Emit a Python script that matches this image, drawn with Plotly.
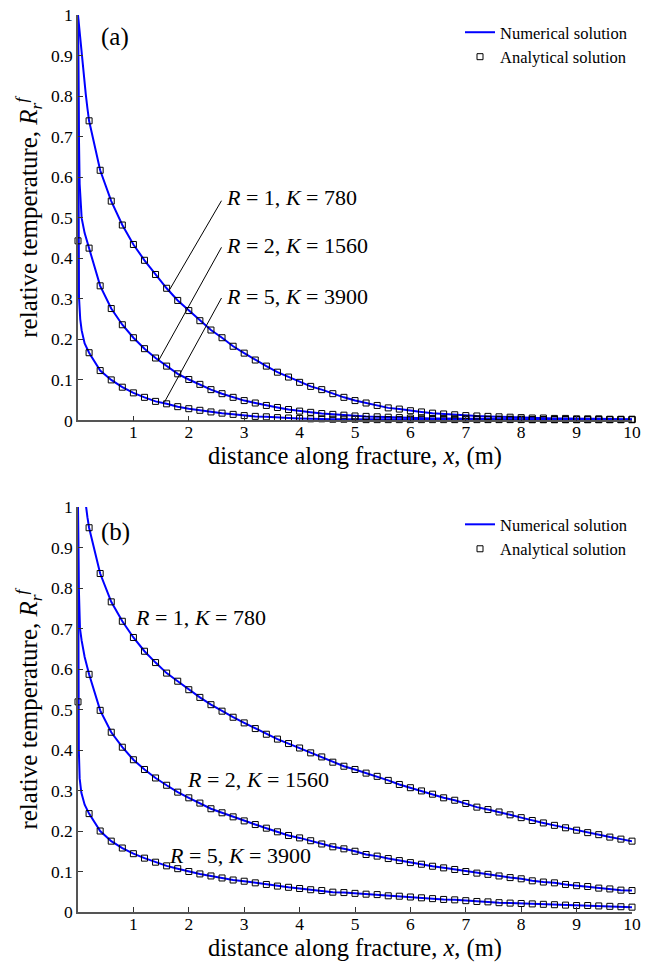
import plotly.graph_objects as go

# ---------------- data ----------------
x_grid = [0.2, 0.4, 0.6, 0.8, 1.0, 1.2, 1.4, 1.6, 1.8, 2.0,
          2.2, 2.4, 2.6, 2.8, 3.0, 3.2, 3.4, 3.6, 3.8, 4.0,
          4.2, 4.4, 4.6, 4.8, 5.0, 5.2, 5.4, 5.6, 5.8, 6.0,
          6.2, 6.4, 6.6, 6.8, 7.0, 7.2, 7.4, 7.6, 7.8, 8.0,
          8.2, 8.4, 8.6, 8.8, 9.0, 9.2, 9.4, 9.6, 9.8, 10.0]

# panel (a) analytical (markers)
a_R1 = [0.739, 0.617, 0.541, 0.482, 0.434, 0.395, 0.360, 0.326, 0.296, 0.271,
        0.246, 0.223, 0.204, 0.183, 0.166, 0.149, 0.134, 0.119, 0.107, 0.094,
        0.084, 0.076, 0.066, 0.057, 0.049, 0.043, 0.037, 0.031, 0.028, 0.024,
        0.021, 0.018, 0.016, 0.014, 0.012, 0.011, 0.010, 0.009, 0.008, 0.007,
        0.006, 0.006, 0.005, 0.005, 0.004, 0.004, 0.004, 0.003, 0.003, 0.003]
a_R2 = [0.425, 0.332, 0.276, 0.236, 0.204, 0.177, 0.154, 0.134, 0.115, 0.101,
        0.089, 0.076, 0.066, 0.057, 0.049, 0.043, 0.037, 0.032, 0.027, 0.023,
        0.020, 0.017, 0.015, 0.013, 0.011, 0.010, 0.009, 0.008, 0.007, 0.006,
        0.006, 0.005, 0.005, 0.004, 0.004, 0.004, 0.003, 0.003, 0.003, 0.003,
        0.002, 0.002, 0.002, 0.002, 0.002, 0.002, 0.002, 0.002, 0.002, 0.002]
a_R5 = [0.167, 0.123, 0.100, 0.082, 0.068, 0.057, 0.047, 0.041, 0.034, 0.029,
        0.025, 0.021, 0.018, 0.015, 0.012, 0.010, 0.009, 0.007, 0.006, 0.005,
        0.004, 0.004, 0.003, 0.003, 0.003, 0.002, 0.002, 0.002, 0.002, 0.002,
        0.002, 0.002, 0.002, 0.002, 0.002, 0.002, 0.002, 0.002, 0.002, 0.002,
        0.002, 0.002, 0.002, 0.002, 0.002, 0.002, 0.002, 0.002, 0.002, 0.002]
a_x0_value = 0.443  # analytical point at x = 0

# panel (a) numerical: near-origin part of the curves
a_R1_head_x = [0.0, 0.02, 0.05, 0.08, 0.11, 0.14, 0.17]
a_R1_head_y = [1.0, 0.97, 0.925, 0.885, 0.845, 0.805, 0.77]
a_R2_head_x = [0.0, 0.005, 0.018, 0.03, 0.066, 0.12]
a_R2_head_y = [1.0, 0.85, 0.69, 0.583, 0.499, 0.462]
a_R5_head_x = [0.0, 0.003, 0.008, 0.018, 0.04, 0.066, 0.12]
a_R5_head_y = [1.0, 0.6, 0.42, 0.304, 0.25, 0.222, 0.19]

# panel (b) analytical (markers)
b_R1 = [0.949, 0.836, 0.766, 0.718, 0.678, 0.644, 0.616, 0.590, 0.570, 0.549,
        0.530, 0.512, 0.496, 0.481, 0.467, 0.453, 0.439, 0.427, 0.416, 0.405,
        0.393, 0.383, 0.370, 0.360, 0.352, 0.343, 0.335, 0.325, 0.315, 0.307,
        0.299, 0.291, 0.282, 0.276, 0.268, 0.259, 0.253, 0.247, 0.240, 0.233,
        0.226, 0.220, 0.214, 0.208, 0.202, 0.196, 0.191, 0.185, 0.180, 0.175]
b_R2 = [0.587, 0.498, 0.444, 0.407, 0.376, 0.352, 0.331, 0.313, 0.296, 0.282,
        0.269, 0.255, 0.245, 0.235, 0.225, 0.216, 0.207, 0.198, 0.189, 0.183,
        0.176, 0.168, 0.161, 0.156, 0.150, 0.142, 0.138, 0.132, 0.127, 0.122,
        0.118, 0.113, 0.109, 0.105, 0.100, 0.096, 0.093, 0.089, 0.085, 0.082,
        0.077, 0.074, 0.072, 0.068, 0.065, 0.063, 0.059, 0.057, 0.054, 0.053]
b_R5 = [0.243, 0.200, 0.175, 0.158, 0.144, 0.133, 0.123, 0.114, 0.107, 0.100,
        0.094, 0.089, 0.084, 0.079, 0.076, 0.072, 0.068, 0.064, 0.061, 0.058,
        0.055, 0.053, 0.049, 0.048, 0.046, 0.044, 0.043, 0.040, 0.039, 0.037,
        0.035, 0.033, 0.031, 0.030, 0.028, 0.026, 0.025, 0.023, 0.022, 0.021,
        0.020, 0.019, 0.018, 0.017, 0.016, 0.016, 0.015, 0.014, 0.013, 0.012]
b_x0_value = 0.519

b_R1_head_x = [0.11, 0.14, 0.17]
b_R1_head_y = [1.04, 1.0, 0.975]
b_R2_head_x = [0.0, 0.005, 0.015, 0.036, 0.066, 0.12]
b_R2_head_y = [1.0, 0.9, 0.8, 0.7, 0.67, 0.63]
b_R5_head_x = [0.0, 0.003, 0.008, 0.015, 0.03, 0.06, 0.12]
b_R5_head_y = [1.0, 0.7, 0.5, 0.4, 0.33, 0.295, 0.265]

labels = ["<i>R</i> = 1, <i>K</i> = 780",
          "<i>R</i> = 2, <i>K</i> = 1560",
          "<i>R</i> = 5, <i>K</i> = 3900"]

y_ticks = [0, 0.1, 0.2, 0.3, 0.4, 0.5, 0.6, 0.7, 0.8, 0.9, 1]
y_ticktext = ["0", "0.1", "0.2", "0.3", "0.4", "0.5", "0.6", "0.7", "0.8", "0.9", "1"]
x_ticks = [1, 2, 3, 4, 5, 6, 7, 8, 9, 10]

# ---------------- figure ----------------
FONT = "Liberation Serif"
BLUE = "#0000ff"
fig = go.Figure()

def add_panel(xa, ya, legend, heads, marks, x0_val):
    for i, ((hx, hy), m) in enumerate(zip(heads, marks)):
        fig.add_trace(go.Scatter(
            x=hx + x_grid, y=hy + m, mode="lines",
            line=dict(color=BLUE, width=2),
            name="Numerical solution", legend=legend,
            showlegend=(i == 0), xaxis=xa, yaxis=ya, hoverinfo="skip"))
    for i, m in enumerate(marks):
        xs = list(x_grid)
        ys = list(m)
        if i == 1:
            xs = [0.0] + xs
            ys = [x0_val] + ys
        fig.add_trace(go.Scatter(
            x=xs, y=ys, mode="markers",
            marker=dict(symbol="square-open", size=6, color="black",
                        line=dict(width=1, color="black")),
            name="Analytical solution", legend=legend,
            showlegend=(i == 0), cliponaxis=False,
            xaxis=xa, yaxis=ya, hoverinfo="skip"))

add_panel("x", "y", "legend",
          [(a_R1_head_x, a_R1_head_y), (a_R2_head_x, a_R2_head_y), (a_R5_head_x, a_R5_head_y)],
          [a_R1, a_R2, a_R5], a_x0_value)
add_panel("x2", "y2", "legend2",
          [(b_R1_head_x, b_R1_head_y), (b_R2_head_x, b_R2_head_y), (b_R5_head_x, b_R5_head_y)],
          [b_R1, b_R2, b_R5], b_x0_value)

axis_common = dict(range=[0, 10], tickvals=x_ticks, ticks="inside", ticklen=5,
                   tickcolor="#333", showline=True, linecolor="#555", linewidth=1.5,
                   showgrid=False, zeroline=False, automargin=False,
                   ticklabeloverflow="allow", ticklabelstandoff=-5,
                   tickfont=dict(family=FONT, size=17.5, color="black"))
yaxis_common = dict(range=[0, 1], tickvals=y_ticks, ticktext=y_ticktext,
                    ticks="inside", ticklen=5, tickcolor="#333",
                    showline=True, linecolor="#555", linewidth=1.5,
                    showgrid=False, zeroline=False, automargin=False,
                    ticklabeloverflow="allow",
                    tickfont=dict(family=FONT, size=17.5, color="black"))

xtitle = dict(text="distance along fracture, <i>x</i>, (m)",
              font=dict(family=FONT, size=24.5, color="black"), standoff=2)
ytitle = dict(text="relative temperature, <i>R</i><sub><i>r</i></sub><sup><i>f</i></sup>",
              font=dict(family=FONT, size=25, color="black"), standoff=6)

top_dom = [0.548, 1.0]
bot_dom = [0.0, 0.4514]

fig.update_layout(
    width=645, height=963,
    margin=dict(l=78, r=13, t=14.5, b=51.3),
    paper_bgcolor="white", plot_bgcolor="white",
    font=dict(family=FONT, color="black"),
    xaxis=dict(axis_common, domain=[0, 1], anchor="y", title=xtitle),
    yaxis=dict(yaxis_common, domain=top_dom, anchor="x", title=ytitle),
    xaxis2=dict(axis_common, domain=[0, 1], anchor="y2", title=xtitle),
    yaxis2=dict(yaxis_common, domain=bot_dom, anchor="x2", title=ytitle),
    legend=dict(x=1.0, y=1.0, xanchor="right", yanchor="top",
                bgcolor="rgba(0,0,0,0)", font=dict(family=FONT, size=16.5),
                tracegroupgap=0, itemwidth=30),
    legend2=dict(x=1.0, y=bot_dom[1], xanchor="right", yanchor="top",
                 bgcolor="rgba(0,0,0,0)", font=dict(family=FONT, size=16.5),
                 tracegroupgap=0, itemwidth=30),
    showlegend=True,
)

# panel letters
fig.add_annotation(text="(a)", x=0.38, y=0.946, xref="x", yref="y", xanchor="left",
                   yanchor="middle", showarrow=False, font=dict(family=FONT, size=25))
fig.add_annotation(text="(b)", x=0.38, y=0.938, xref="x2", yref="y2", xanchor="left",
                   yanchor="middle", showarrow=False, font=dict(family=FONT, size=25))

# panel (a) labels with leader lines
a_lab_pos = [(2.63, 0.549), (2.63, 0.431), (2.63, 0.305)]
a_lead = [((1.66, 0.324), (2.59, 0.542)),
          ((1.46, 0.149), (2.59, 0.427)),
          ((1.56, 0.045), (2.59, 0.302))]
for txt, (lx, ly), ((x0, y0), (x1, y1)) in zip(labels, a_lab_pos, a_lead):
    fig.add_annotation(text=txt, x=lx, y=ly, xref="x", yref="y", xanchor="left",
                       yanchor="middle", showarrow=False,
                       font=dict(family=FONT, size=22, color="black"))
    fig.add_shape(type="line", x0=x0, y0=y0, x1=x1, y1=y1, xref="x", yref="y",
                  line=dict(color="black", width=1))

# panel (b) labels
b_lab_pos = [(0.99, 0.728), (1.94, 0.328), (1.60, 0.140)]
for txt, (lx, ly) in zip(labels, b_lab_pos):
    fig.add_annotation(text=txt, x=lx, y=ly, xref="x2", yref="y2", xanchor="left",
                       yanchor="middle", showarrow=False,
                       font=dict(family=FONT, size=22, color="black"))

# remove the default page margin so the figure sits at the window origin
fig.write_html("out.html", config={"displayModeBar": False},
               post_script="document.body.style.margin='0';")
